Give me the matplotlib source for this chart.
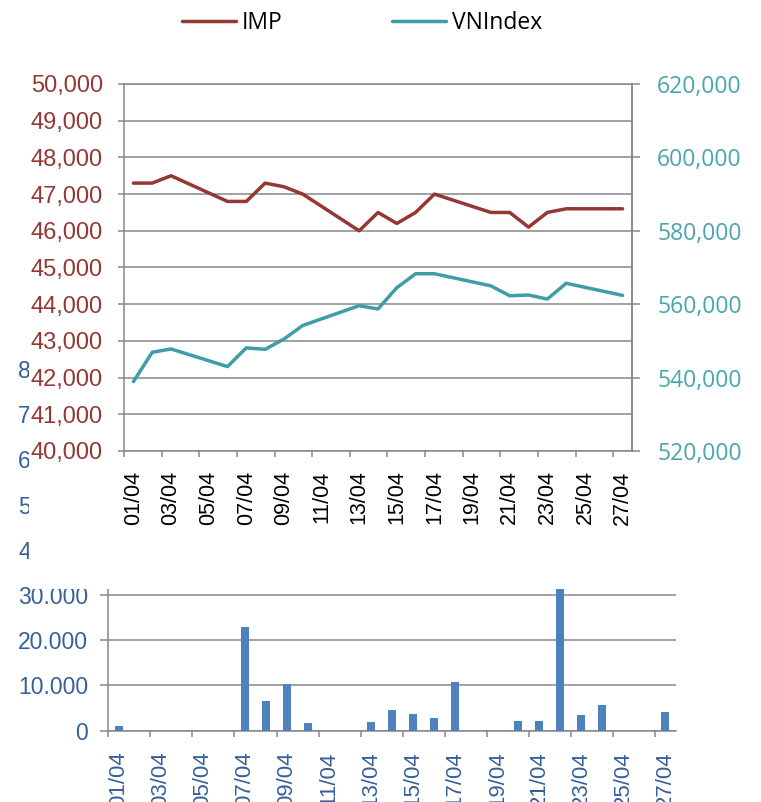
import matplotlib
matplotlib.use("Agg")
import matplotlib.pyplot as plt
import matplotlib.patches as mPatch
from matplotlib.ticker import FuncFormatter, FixedLocator

# Colours
IMP_COLOUR = "#953735"
VNI_COLOUR = "#3E9EA7"
VNI_TEXT_COLOUR = "#48A6AD"
BAR_COLOUR = "#4F81BD"
BAR_TEXT_COLOUR = "#35609A"
GRID_COLOUR = "#878787"

FIG_W, FIG_H = 761, 802

# Data (one category per day, None = no trading / no point)
days = ["01/04", "02/04", "03/04", "04/04", "05/04", "06/04", "07/04", "08/04", "09/04",
        "10/04", "11/04", "12/04", "13/04", "14/04", "15/04", "16/04", "17/04", "18/04",
        "19/04", "20/04", "21/04", "22/04", "23/04", "24/04", "25/04", "26/04", "27/04"]
imp_price = [47300, 47300, 47500, None, None, 46800, 46800, 47300, 47200,
             47000, None, None, 46000, 46500, 46200, 46500, 47000, None,
             None, 46500, 46500, 46100, 46500, 46600, None, None, 46600]
vn_index = [538900, 546900, 547800, None, None, 543000, 548100, 547700, 550500,
            554200, None, None, 559600, 558700, 564500, 568300, 568300, None,
            None, 565000, 562300, 562500, 561400, 565700, None, None, 562400]
volume = [1000, 0, 0, 0, 0, 0, 23000, 6500, 10300,
          1600, 0, 0, 1850, 4600, 3700, 2800, 10700, 0,
          0, 2150, 2150, 35000, 3400, 5600, 0, 0, 4100]
imp_ticks = [40000, 41000, 42000, 43000, 44000, 45000, 46000, 47000, 48000, 49000, 50000]
vni_ticks = [520000, 540000, 560000, 580000, 600000, 620000]
vol_ticks = [0, 10000, 20000, 30000, 40000, 50000, 60000, 70000, 80000]


def px_box(left, top, right, bottom):
    # pixel box of the picture -> figure fraction for add_axes
    return [left / FIG_W, (FIG_H - bottom) / FIG_H, (right - left) / FIG_W, (bottom - top) / FIG_H]


def valid_points(values):
    xs = [i for i, v in enumerate(values) if v is not None]
    ys = [v for v in values if v is not None]
    return xs, ys


fig = plt.figure(figsize=(FIG_W / 100, FIG_H / 100), dpi=100)
fig.patch.set_facecolor("white")

n = len(days)
boundary_ticks = [i - 0.5 for i in range(0, n, 2)]
label_pos = list(range(0, n, 2))
label_text = [days[i] for i in label_pos]

# --- volume chart (sits behind, mostly covered) ---
ax_vol = fig.add_axes(px_box(108.3, 369, 676, 730.7), zorder=0)
ax_vol.bar(range(n), volume, width=0.38, color=BAR_COLOUR, zorder=3)
ax_vol.set_xlim(-0.5, n - 0.5)
ax_vol.set_ylim(0, 80000)
ax_vol.set_yticks(vol_ticks)
ax_vol.yaxis.set_major_formatter(FuncFormatter(lambda v, p: "0" if v == 0 else f"{int(v):,}".replace(",", ".")))
ax_vol.tick_params(axis="y", colors=GRID_COLOUR, labelcolor=BAR_TEXT_COLOUR, labelsize=16.5,
                   length=5.5, width=1.1, pad=8.9)
ax_vol.xaxis.set_major_locator(FixedLocator(boundary_ticks))
ax_vol.xaxis.set_minor_locator(FixedLocator(label_pos))
ax_vol.set_xticklabels([], minor=False)
ax_vol.set_xticklabels(label_text, minor=True, rotation=90)
ax_vol.tick_params(axis="x", which="major", colors=GRID_COLOUR, length=4.5, width=1.1)
ax_vol.tick_params(axis="x", which="minor", length=0, labelcolor=BAR_TEXT_COLOUR, labelsize=16, pad=15)
ax_vol.grid(axis="y", color=GRID_COLOUR, linewidth=1.1, zorder=1)
ax_vol.set_axisbelow(True)
for side in ["top", "right"]:
    ax_vol.spines[side].set_visible(False)
for side in ["left", "bottom"]:
    ax_vol.spines[side].set_color(GRID_COLOUR)
    ax_vol.spines[side].set_linewidth(1.1)
for lbl in ax_vol.get_yticklabels() + ax_vol.get_xticklabels(minor=True):
    lbl.set_family("Liberation Sans")

# the price chart picture is pasted over the volume chart
cover = mPatch.Rectangle((29 / FIG_W, (FIG_H - 589) / FIG_H), 1, 1, transform=fig.transFigure,
                         facecolor="white", edgecolor="none", zorder=1)
fig.add_artist(cover)

# --- price chart ---
ax = fig.add_axes(px_box(124, 84, 632, 451), zorder=2)
ax.set_facecolor("white")
xs, ys = valid_points(imp_price)
line_imp, = ax.plot(xs, ys, color=IMP_COLOUR, linewidth=2.5, solid_capstyle="round", zorder=4)
ax.set_xlim(-0.5, n - 0.5)
ax.set_ylim(40000, 50000)
ax.set_yticks(imp_ticks)
ax.yaxis.set_major_formatter(FuncFormatter(lambda v, p: f"{int(v):,}"))
ax.tick_params(axis="y", colors=GRID_COLOUR, labelcolor=IMP_COLOUR, labelsize=17,
               length=4.5, width=1.1, pad=10.8)
ax.xaxis.set_major_locator(FixedLocator(boundary_ticks))
ax.xaxis.set_minor_locator(FixedLocator(label_pos))
ax.set_xticklabels([], minor=False)
ax.set_xticklabels(label_text, minor=True, rotation=90)
ax.tick_params(axis="x", which="major", colors=GRID_COLOUR, length=4.5, width=1.1)
ax.tick_params(axis="x", which="minor", length=0, labelcolor="black", labelsize=15.5, pad=14)
ax.grid(axis="y", color=GRID_COLOUR, linewidth=1.1)
ax.set_axisbelow(True)
for side in ["left", "bottom", "top", "right"]:
    ax.spines[side].set_color(GRID_COLOUR)
    ax.spines[side].set_linewidth(1.1)
for lbl in ax.get_yticklabels() + ax.get_xticklabels(minor=True):
    lbl.set_family("Liberation Sans")

ax2 = ax.twinx()
ax2.set_zorder(3)
ax2.patch.set_visible(False)
xs, ys = valid_points(vn_index)
line_vni, = ax2.plot(xs, ys, color=VNI_COLOUR, linewidth=2.5, solid_capstyle="round")
ax2.set_ylim(520000, 620000)
ax2.set_yticks(vni_ticks)
ax2.yaxis.set_major_formatter(FuncFormatter(lambda v, p: f"{int(v):,}"))
ax2.tick_params(axis="y", colors=GRID_COLOUR, labelcolor=VNI_TEXT_COLOUR, labelsize=16.5,
                length=5.8, width=1.1, pad=12.3)
for side in ["left", "bottom", "top"]:
    ax2.spines[side].set_visible(False)
ax2.spines["right"].set_color(GRID_COLOUR)
ax2.spines["right"].set_linewidth(1.1)
for lbl in ax2.get_yticklabels():
    lbl.set_family("Open Sans")

fig.legend([line_imp, line_vni], ["IMP", "VNIndex"], loc="center", bbox_to_anchor=(362 / FIG_W, 1 - 22.7 / FIG_H),
           ncol=2, frameon=False, prop={"family": "Open Sans", "size": 16.5},
           handlelength=2.36, handletextpad=0.25, columnspacing=4.8, borderpad=0)

fig.savefig("out.png", dpi=100, facecolor="white")
